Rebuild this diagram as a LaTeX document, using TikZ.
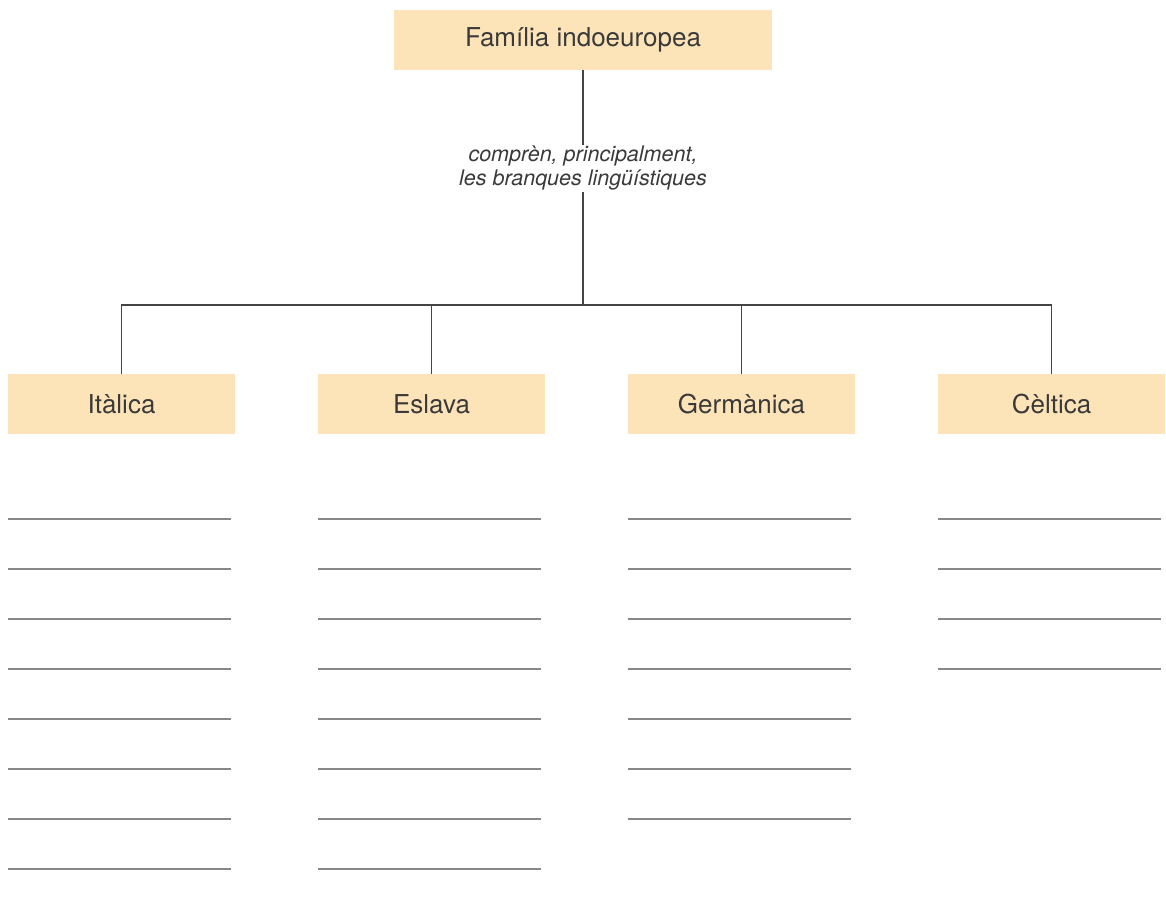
\documentclass[tikz,border=0pt]{standalone}
\usepackage{fontspec}
\setmainfont{TeX Gyre Heros}
\begin{document}
\begin{tikzpicture}[x=1pt,y=-1pt,
  box/.style={fill=boxfill, minimum width=227pt, minimum height=60pt, inner sep=0pt, text=txt, font=\fontsize{26}{30}\selectfont},
  conn/.style={draw=connc, line width=1.3pt},
  blank/.style={draw=blankc, line width=1.1pt}]
\definecolor{boxfill}{HTML}{FDE4B8}
\definecolor{txt}{HTML}{3A3A3A}
\definecolor{connc}{HTML}{444444}
\definecolor{blankc}{HTML}{888888}
\useasboundingbox (0,0) rectangle (1166,916);
\node[box, minimum width=378pt] (top) at (583,40) {Família indoeuropea};
\node[text=txt, font=\fontsize{21.5}{24}\selectfont\itshape, align=center, inner sep=0pt, minimum height=47pt] (lab) at (583,168.5) {comprèn, principalment,\\les branques lingüístiques};
\coordinate (j) at (583,305);
\node[box] (it) at (121.5,404) {Itàlica};
\node[box] (es) at (431.5,404) {Eslava};
\node[box] (ge) at (741.5,404) {Germànica};
\node[box] (ce) at (1051.5,404) {Cèltica};
\draw[conn] (top.south) -- (lab.north);
\draw[conn] (lab.south) -- (j);
\draw[conn] (j) -| (it.north);
\draw[conn] (j) -| (es.north);
\draw[conn] (j) -| (ge.north);
\draw[conn] (j) -| (ce.north);
\foreach \y in {519,569,...,869} \draw[blank] (8,\y) -- (231,\y);
\foreach \y in {519,569,...,869} \draw[blank] (318,\y) -- (541,\y);
\foreach \y in {519,569,...,819} \draw[blank] (628,\y) -- (851,\y);
\foreach \y in {519,569,...,669} \draw[blank] (938,\y) -- (1161,\y);
\end{tikzpicture}
\end{document}
